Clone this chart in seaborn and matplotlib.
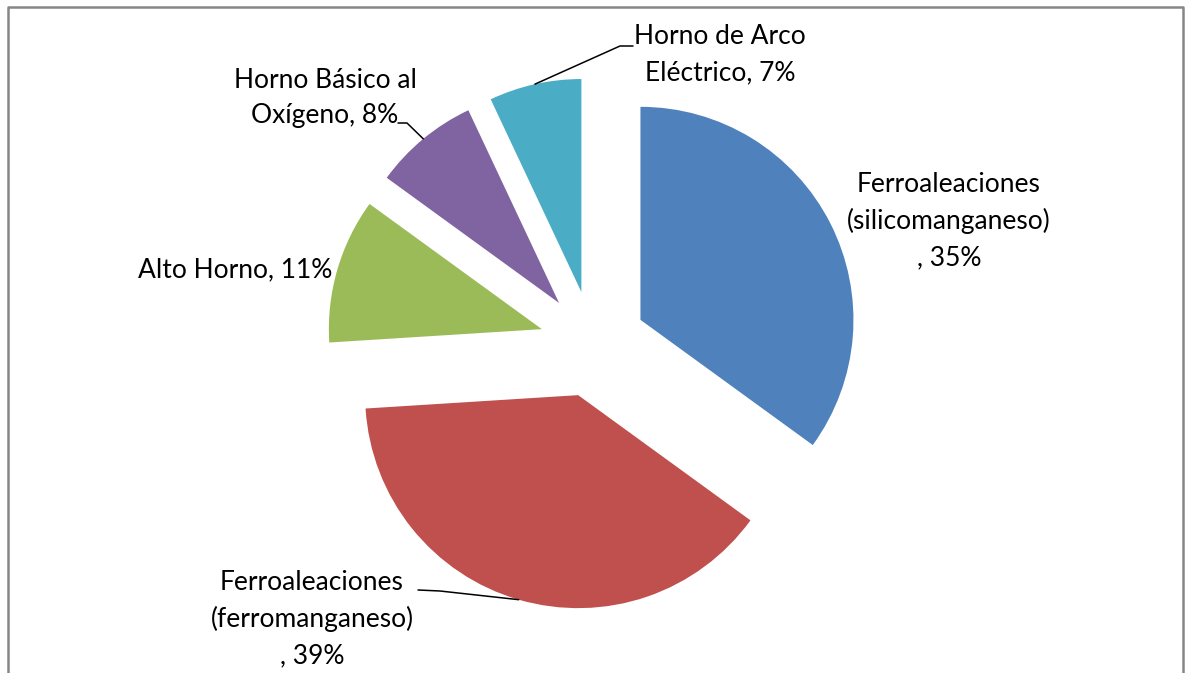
import numpy as np
import matplotlib
matplotlib.use("Agg")
import matplotlib.pyplot as plt
import seaborn as sns

# data (clockwise from 12 o'clock)
categories = ["Ferroaleaciones (silicomanganeso)", "Ferroaleaciones (ferromanganeso)",
              "Alto Horno", "Horno Básico al Oxígeno", "Horno de Arco Eléctrico"]
shares = [35, 39, 11, 8, 7]
label_lines = ["Ferroaleaciones\n(silicomanganeso)\n, 35%",
               "Ferroaleaciones\n(ferromanganeso)\n, 39%",
               "Alto Horno, 11%",
               "Horno Básico al\nOxígeno, 8%",
               "Horno de Arco\nEléctrico, 7%"]
colors = ["#4F81BD", "#C0504D", "#9BBB59", "#8064A2", "#4BACC6"]

sns.set_style("white")
plt.rcParams['font.family'] = ['Lato', 'DejaVu Sans']

W, H = 1185, 673
CX, CY, R = 593, 344, 213


def px(x, y):
    # pixel position (y down) -> data units of the pie
    return (x - CX) / R, (CY - y) / R


fig = plt.figure(figsize=(W / 100, H / 100), dpi=100)
ax = fig.add_axes([0, 0, 1, 1])
wedges, _ = ax.pie(shares, colors=colors, startangle=90, counterclock=False,
                   explode=[0.25] * len(shares), radius=1, center=(0, 0),
                   wedgeprops=dict(linewidth=0))
ax.set_xlim(-CX / R, (W - CX) / R)
ax.set_ylim(-(H - CY) / R, CY / R)
ax.set_aspect("equal")
ax.axis("off")

# label centres (pixels) and leader lines
label_pos = [(949, 221), (312, 619), (235, 270), (325, 98), (720, 55)]
leader_start = {1: [(418, 590), (440, 591)],
                3: [(398, 123), (407, 123)],
                4: [(633, 46), (620, 46)]}

for i, (w, txt) in enumerate(zip(wedges, label_lines)):
    x, y = px(*label_pos[i])
    ax.text(x, y, txt, ha="center", va="center", fontsize=19,
            linespacing=1.55, color="black")
    if i in leader_start:
        tm = np.deg2rad((w.theta1 + w.theta2) / 2)
        ex = w.center[0] + w.r * np.cos(tm)
        ey = w.center[1] + w.r * np.sin(tm)
        pts = [px(*p) for p in leader_start[i]] + [(ex, ey)]
        ax.plot([p[0] for p in pts], [p[1] for p in pts], color="black", lw=1.1)

# chart frame
fx = [px(7.5, H + 5)[0], px(7.5, 7)[0], px(1183, 7)[0], px(1183, H + 5)[0]]
fy = [px(7.5, H + 5)[1], px(7.5, 7)[1], px(1183, 7)[1], px(1183, H + 5)[1]]
ax.plot(fx, fy, color="#868686", lw=1.8, clip_on=False)

fig.savefig("out.png", dpi=100, facecolor="white")
